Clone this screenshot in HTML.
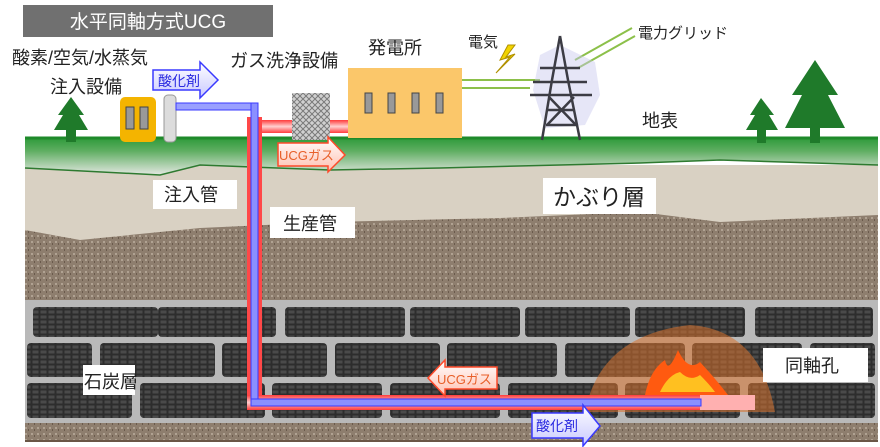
<!DOCTYPE html>
<html><head><meta charset="utf-8"><style>
html,body{margin:0;padding:0;background:#fff;}
svg{display:block;}
text{font-family:"Liberation Sans","Noto Sans CJK JP",sans-serif;}
</style></head><body>
<svg width="880" height="447" viewBox="0 0 880 447" xmlns="http://www.w3.org/2000/svg">
<defs>
<linearGradient id="grass" x1="0" y1="0" x2="0" y2="1">
<stop offset="0" stop-color="#2e9a3a"/><stop offset="0.35" stop-color="#5fae62"/><stop offset="1" stop-color="#e4e8e2"/>
</linearGradient>
<pattern id="coal" width="8" height="5" patternUnits="userSpaceOnUse">
<rect width="8" height="5" fill="#2d2d2d"/>
<rect x="0.5" y="0.5" width="6" height="3" fill="#4a4a4a"/>
</pattern>
<pattern id="gravel" width="6" height="6" patternUnits="userSpaceOnUse">
<rect width="6" height="6" fill="#8e7e6e"/>
<rect x="1" y="1" width="2" height="2" fill="#b0a292"/>
<rect x="4" y="3" width="1" height="2" fill="#6a5a4c"/>
</pattern>
<pattern id="chk" width="6" height="6" patternUnits="userSpaceOnUse">
<rect width="6" height="6" fill="#d0d0d0"/>
<path d="M0 0L6 6M6 0L0 6" stroke="#7a7a7a" stroke-width="1"/>
</pattern>
<linearGradient id="redp" x1="0" y1="0" x2="0" y2="1">
<stop offset="0" stop-color="#ff3b3b"/><stop offset="0.5" stop-color="#ffd0d0"/><stop offset="1" stop-color="#ff3b3b"/>
</linearGradient>
<linearGradient id="arrB" x1="0" y1="0" x2="0" y2="1">
<stop offset="0" stop-color="#ffffff"/><stop offset="1" stop-color="#c9c9ff"/>
</linearGradient>
<linearGradient id="arrR" x1="0" y1="0" x2="0" y2="1">
<stop offset="0" stop-color="#ffffff"/><stop offset="1" stop-color="#ffc0b0"/>
</linearGradient>
</defs>

<rect x="23" y="5" width="250" height="32" fill="#707070"/>
<text x="148" y="28" font-size="19" fill="#fff" text-anchor="middle">水平同軸方式UCG</text>

<rect x="25" y="165" width="853" height="275" fill="#d9d1c3"/>
<path d="M25 230 L80 240 L200 228 L330 222 L500 218 L640 212 L720 222 L878 215 L878 302 L25 302 Z" fill="url(#gravel)"/>
<rect x="25" y="300" width="853" height="124" fill="#b9b9b9"/>
<rect x="25" y="423" width="853" height="18" fill="url(#gravel)"/>
<line x1="25" y1="441" x2="878" y2="441" stroke="#6a5646" stroke-width="2"/>
<g fill="url(#coal)">
<rect x="33" y="307" width="125" height="30" rx="4"/>
<rect x="158" y="307" width="118" height="30" rx="4"/>
<rect x="285" y="307" width="120" height="30" rx="4"/>
<rect x="410" y="307" width="110" height="30" rx="4"/>
<rect x="525" y="307" width="105" height="30" rx="4"/>
<rect x="635" y="307" width="110" height="30" rx="4"/>
<rect x="755" y="307" width="118" height="30" rx="4"/>
<rect x="27" y="343" width="65" height="34" rx="4"/>
<rect x="100" y="343" width="115" height="34" rx="4"/>
<rect x="222" y="343" width="105" height="34" rx="4"/>
<rect x="335" y="343" width="105" height="34" rx="4"/>
<rect x="447" y="343" width="110" height="34" rx="4"/>
<rect x="565" y="343" width="120" height="34" rx="4"/>
<rect x="692" y="343" width="110" height="34" rx="4"/>
<rect x="810" y="343" width="65" height="34" rx="4"/>
<rect x="27" y="383" width="105" height="35" rx="4"/>
<rect x="140" y="383" width="125" height="35" rx="4"/>
<rect x="272" y="383" width="110" height="35" rx="4"/>
<rect x="390" y="383" width="110" height="35" rx="4"/>
<rect x="508" y="383" width="110" height="35" rx="4"/>
<rect x="625" y="383" width="115" height="35" rx="4"/>
<rect x="748" y="383" width="127" height="35" rx="4"/>
</g>
<path d="M585 412 Q600 335 690 325 Q760 330 775 412 Z" fill="#d9722e" opacity="0.55"/>
<path d="M645 395 Q650 370 665 360 Q668 375 678 350 Q688 372 700 362 Q715 378 728 395 Z" fill="#ff5a10"/>
<path d="M660 392 Q668 375 680 372 Q690 382 700 375 Q710 385 715 392 Z" fill="#ffc020"/>

<path d="M25 138 L878 138 L878 165 L720 160 L640 163 L560 165 L440 168 L330 170 L200 165 L160 175 L25 168 Z" fill="url(#grass)"/>
<line x1="25" y1="138" x2="878" y2="138" stroke="#1e8a2a" stroke-width="3"/>
<path d="M25 168 L160 175 L200 165 L330 170 L440 168 L560 165 L640 163 L720 160 L878 165" fill="none" stroke="#2e7a30" stroke-width="1.5"/>

<g fill="#1f7a2a">
<path d="M71 97 L84 115 L79 115 L88 130 L76 130 L76 142 L66 142 L66 130 L54 130 L63 115 L58 115 Z"/>
<path d="M761 98 L774 115 L769 115 L778 130 L766 130 L766 143 L757 143 L757 130 L746 130 L755 115 L750 115 Z"/>
<path d="M815 60 L838 95 L828 95 L845 128 L820 128 L820 143 L810 143 L810 128 L785 128 L802 95 L792 95 Z"/>
</g>

<rect x="120" y="97" width="36" height="45" rx="5" fill="#f4b400"/>
<rect x="126" y="107" width="8" height="22" fill="#999" stroke="#444"/>
<rect x="140" y="107" width="8" height="22" fill="#999" stroke="#444"/>
<rect x="164" y="95" width="12" height="47" rx="4" fill="#dcdcdc" stroke="#999"/>

<rect x="176" y="103" width="80" height="7" fill="#9aa0ff" stroke="#3a3aff" stroke-width="1"/>
<rect x="262" y="120" width="86" height="13" fill="url(#redp)"/>
<rect x="247" y="117" width="15" height="293" fill="#ff4848"/>
<rect x="247" y="395" width="505" height="15" fill="url(#redp)"/>
<rect x="700" y="395" width="55" height="15" fill="#ffb0b0"/>
<rect x="251" y="103" width="7" height="302" fill="#8a90ff" stroke="#3a3aff" stroke-width="1"/>
<rect x="251" y="399" width="450" height="7" fill="#8a90ff" stroke="#3a3aff" stroke-width="1"/>

<rect x="292" y="93" width="38" height="47" fill="url(#chk)"/>
<rect x="348" y="68" width="114" height="70" fill="#fbc76a"/>
<g fill="#999" stroke="#444"><rect x="365" y="93" width="7" height="20"/><rect x="388" y="93" width="7" height="20"/><rect x="412" y="93" width="7" height="20"/><rect x="436" y="93" width="7" height="20"/></g>
<g stroke="#8cc04a" stroke-width="2">
<line x1="462" y1="80" x2="540" y2="80"/><line x1="462" y1="88" x2="530" y2="88"/>
<line x1="575" y1="60" x2="632" y2="28"/><line x1="578" y1="68" x2="635" y2="36"/>
</g>
<path d="M508 45 L500 60 L510 57 L496 73 L515 54 L506 57 L515 45 Z" fill="#f2d400" stroke="#b09000"/>
<path d="M540 55 L560 45 L595 62 L600 95 L585 125 L545 128 L533 90 Z" fill="#c8c8ee" opacity="0.45"/>
<g stroke="#3c3c44" stroke-width="2.5" fill="none">
<path d="M560 36 L552 80 L542 140 M560 36 L568 80 L580 140"/>
<line x1="540" y1="68" x2="580" y2="68"/><line x1="533" y1="82" x2="587" y2="82"/><line x1="530" y1="95" x2="592" y2="95"/>
<line x1="548" y1="110" x2="575" y2="110"/><line x1="546" y1="125" x2="578" y2="125"/>
<path d="M549 97 L576 125 M574 97 L547 125"/>
</g>

<path d="M153 70 L200 70 L200 62 L218 80 L200 98 L200 90 L153 90 Z" fill="url(#arrB)" stroke="#3a3aff" stroke-width="1.5"/>
<text x="158" y="86" font-size="14" fill="#2a2ae0">酸化剤</text>
<path d="M278 143 L328 143 L328 137 L345 155 L328 172 L328 166 L278 166 Z" fill="url(#arrR)" stroke="#ff4a2a" stroke-width="1.5"/>
<text x="279" y="160" font-size="13" fill="#e8602a">UCGガス</text>
<path d="M497 367 L445 367 L445 360 L428 378 L445 396 L445 389 L497 389 Z" fill="url(#arrR)" stroke="#ff4a2a" stroke-width="1.5"/>
<text x="437" y="384" font-size="13" fill="#e8602a">UCGガス</text>
<path d="M532 413 L583 413 L583 405 L600 426 L583 446 L583 438 L532 438 Z" fill="url(#arrB)" stroke="#3a3aff" stroke-width="1.5"/>
<text x="536" y="431" font-size="14" fill="#2a2ae0">酸化剤</text>

<g fill="#fff">
<rect x="153" y="180" width="84" height="29"/>
<rect x="270" y="207" width="85" height="31"/>
<rect x="543" y="178" width="113" height="36"/>
<rect x="83" y="365" width="52" height="30"/>
<rect x="763" y="348" width="105" height="34"/>
</g>
<g fill="#222" font-size="18">
<text x="12" y="64">酸素/空気/水蒸気</text>
<text x="50" y="93">注入設備</text>
<text x="230" y="67">ガス洗浄設備</text>
<text x="368" y="54">発電所</text>
<text x="468" y="47" font-size="15">電気</text>
<text x="638" y="38" font-size="15">電力グリッド</text>
<text x="642" y="127">地表</text>
<text x="164" y="201">注入管</text>
<text x="283" y="230">生産管</text>
<text x="553" y="205" font-size="23">かぶり層</text>
<text x="84" y="388">石炭層</text>
<text x="785" y="372">同軸孔</text>
</g>
</svg>
</body></html>
